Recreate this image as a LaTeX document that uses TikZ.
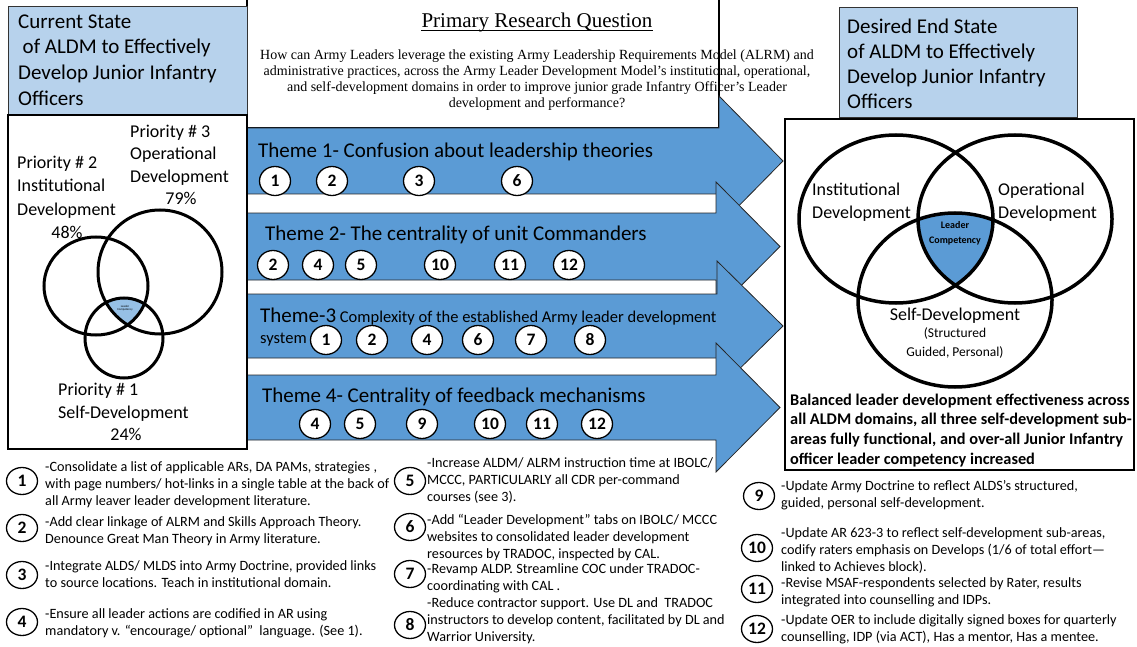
\documentclass[tikz,border=0pt]{standalone}
\usepackage{fontspec}
\setmainfont{Carlito}
\newfontfamily\qfont{Liberation Serif}
\usetikzlibrary{shapes.geometric}
\definecolor{arrowblue}{RGB}{91,155,213}
\definecolor{headblue}{RGB}{183,210,236}
\definecolor{coreblue}{RGB}{150,192,230}
\newcommand{\fsz}[2]{\fontsize{#1}{#2}\selectfont}

\begin{document}
\begin{tikzpicture}[x=1pt,y=-1pt,
  themearrow/.style={fill=arrowblue, draw=black!85, line width=0.8pt, line join=miter},
  panel/.style={draw=black, line width=1.1pt, fill=white},
  header/.style={draw=black!80, line width=1pt, fill=headblue},
  numcirc/.style={ellipse, draw=black, line width=1.3pt, fill=white, minimum width=31pt, minimum height=29pt, inner sep=0pt, font={\fsz{17.5}{18}\bfseries}},
  notecirc/.style={numcirc, minimum height=27pt},
  venn/.style={draw=black, line width=3.5pt},
  smallvenn/.style={draw=black, line width=3pt},
  txt/.style={inner sep=0pt, anchor=base west, align=left},
  ctxt/.style={inner sep=0pt, anchor=base, align=center},
  notetxt/.style={txt, font={\fsz{14.2}{17}}},
]
% multi-line nodes are placed by the baseline of their last line
\useasboundingbox (0,0) rectangle (1137,647);

% research question panel
\path[panel] (247,-3) rectangle (719,128);

% theme arrows, drawn top to bottom so each head overlaps the one above
\path[themearrow] (247,128) -- (719,128) -- (719,96) -- (783,161) -- (719,226) -- (719,194) -- (247,194) -- cycle;
\path[themearrow] (247,213) -- (716,213) -- (716,182) -- (780,246.5) -- (716,311) -- (716,280) -- (247,280) -- cycle;
\path[themearrow] (247,294) -- (717,294) -- (717,261) -- (783,326) -- (717,391) -- (717,358) -- (247,358) -- cycle;
\path[themearrow] (247,375) -- (716,375) -- (716,343) -- (780,407.5) -- (716,472) -- (716,440) -- (247,440) -- cycle;

% current state panel
\path[header] (8,7) rectangle (247,115);
\path[panel] (8,115) rectangle (247,449);

% desired end state panel
\path[panel] (785,119) rectangle (1134,470);
\path[header] (839,8) rectangle (1077,118);

% headers
\node[txt, font={\fsz{21}{25.6}}] (curhead) at (18,105.1)
  {Current State\\\hspace*{4.5pt}of ALDM to Effectively\\Develop Junior Infantry\\Officers};
\node[txt, font={\fsz{21}{25}}] (deshead) at (847,108.3)
  {Desired End State\\of ALDM to Effectively\\Develop Junior Infantry\\Officers};

% research question
\node[ctxt, font={\qfont\fsz{21}{25}}] (qtitle) at (537,28) {Primary Research Question};
\draw[line width=1pt] ([yshift=-3pt]qtitle.base west) -- ([yshift=-3pt]qtitle.base east);
\node[ctxt, font={\qfont\fsz{14}{16}}] (qtext) at (537,108)
  {How can Army Leaders leverage the existing Army Leadership Requirements Model (ALRM) and\\
   administrative practices, across the Army Leader Development Model’s institutional, operational,\\
   and self-development domains in order to improve junior grade Infantry Officer’s Leader\\
   development and performance?};

% current state venn
\begin{scope}
  \clip (96,286) ellipse [x radius=52pt, y radius=49pt];
  \clip (160,272) circle [radius=62pt];
  \fill[coreblue] (124,338) ellipse [x radius=39pt, y radius=40pt];
\end{scope}
\draw[smallvenn] (96,286) ellipse [x radius=52pt, y radius=49pt];
\draw[smallvenn] (160,272) circle [radius=62pt];
\draw[smallvenn] (124,338) ellipse [x radius=39pt, y radius=40pt];
\node[ctxt, font={\fsz{3}{3.5}}] (curcore) at (125,310.5) {Leader\\Competency};

\node[txt, font={\fsz{18}{22.5}}] (pr3) at (130,182.4) {Priority \# 3\\Operational\\Development};
\node[ctxt, font={\fsz{18}{22}}] (pr3pct) at (181,204.4) {79\%};
\node[txt, font={\fsz{18}{23.5}}] (pr2) at (17,215.4) {Priority \# 2\\Institutional\\Development};
\node[ctxt, font={\fsz{18}{22}}] (pr2pct) at (67,238.4) {48\%};
\node[txt, font={\fsz{18}{23.5}}] (pr1) at (58,418.9) {Priority \# 1\\Self-Development};
\node[ctxt, font={\fsz{18}{22}}] (pr1pct) at (126,440.4) {24\%};

% desired end state venn
\begin{scope}
  \clip (896,219) ellipse [x radius=97pt, y radius=84pt];
  \clip (1015,219) ellipse [x radius=97pt, y radius=84pt];
  \fill[arrowblue] (955,300) ellipse [x radius=97pt, y radius=87pt];
\end{scope}
\draw[venn] (896,219) ellipse [x radius=97pt, y radius=84pt];
\draw[venn] (1015,219) ellipse [x radius=97pt, y radius=84pt];
\draw[venn] (955,300) ellipse [x radius=97pt, y radius=87pt];

\node[txt, font={\fsz{18}{23}}] (desinst) at (812,218.4) {Institutional\\Development};
\node[txt, font={\fsz{18}{23}}] (desop) at (998,218.4) {Operational\\Development};
\node[ctxt, font={\fsz{10}{14}\bfseries}] (descore) at (955,243) {Leader\\Competency};
\node[ctxt, font={\fsz{18}{22}}] (desself) at (955,320.4) {Self-Development};
\node[ctxt, font={\fsz{13.5}{19}}] (desselfsub) at (955,356) {(Structured\\Guided, Personal)};
\node[txt, font={\fsz{16.3}{19.7}\bfseries}] (outcome) at (790,464.1)
  {Balanced leader development effectiveness across\\
   all ALDM domains, all three self-development sub-\\
   areas fully functional, and over-all Junior Infantry\\
   officer leader competency increased};

% theme labels
\node[txt, font={\fsz{21}{25}}] (th1) at (258,158) {Theme 1- Confusion about leadership theories};
\node[txt, font={\fsz{21}{25}}] (th2) at (265,240) {Theme 2- The centrality of unit Commanders};
\node[txt, font={\fsz{16.5}{21.5}}] (th3) at (260,343.5)
  {{\fsz{21}{25}Theme-3} Complexity of the established Army leader development\\system};
\node[txt, font={\fsz{21}{25}}] (th4) at (262,402) {Theme 4- Centrality of feedback mechanisms};

% recommendation markers on each theme
\foreach \cx/\num [count=\k] in {275/1,332/2,419/3,517/6}
  \node[numcirc] (ta\k) at (\cx,181) {\num};
\foreach \cx/\num [count=\k] in {273/2,318/4,361/5,440/10,510/11,569/12}
  \node[numcirc] (tb\k) at (\cx,265) {\num};
\foreach \cx/\num [count=\k] in {326/1,372/2,427/4,478/6,531/7,590/8}
  \node[numcirc] (tc\k) at (\cx,340) {\num};
\foreach \cx/\num [count=\k] in {315/4,360/5,422/9,490/10,542/11,597/12}
  \node[numcirc] (td\k) at (\cx,424) {\num};

% recommendation list
\node[notecirc] (r1) at (22,481) {1};
\node[notetxt] (r1t) at (45,505)
  {-Consolidate a list of applicable ARs, DA PAMs, strategies ,\\
   with page numbers/ hot-links in a single table at the back of\\
   all Army leaver leader development literature.};
\node[notecirc] (r2) at (22,528) {2};
\node[notetxt] (r2t) at (45,543)
  {-Add clear linkage of ALRM and Skills Approach Theory.\\
   Denounce Great Man Theory in Army literature.};
\node[notecirc] (r3) at (22,575) {3};
\node[notetxt] (r3t) at (45,587)
  {-Integrate ALDS/ MLDS into Army Doctrine, provided links\\
   to source locations. Teach in institutional domain.};
\node[notecirc] (r4) at (22,622) {4};
\node[notetxt] (r4t) at (45,635)
  {-Ensure all leader actions are codified in AR using\\
   mandatory v. “encourage/ optional”\ \ language. (See 1).};

\node[notecirc] (r5) at (410,481) {5};
\node[notetxt] (r5t) at (427,501)
  {-Increase ALDM/ ALRM instruction time at IBOLC/\\
   MCCC, PARTICULARLY all CDR per-command\\
   courses (see 3).};
\node[notecirc] (r6) at (410,527) {6};
\node[notetxt] (r6t) at (427,558)
  {-Add “Leader Development” tabs on IBOLC/ MCCC\\
   websites to consolidated leader development\\
   resources by TRADOC, inspected by CAL.};
\node[notecirc] (r7) at (410,574) {7};
\node[notetxt] (r7t) at (427,590)
  {-Revamp ALDP. Streamline COC under TRADOC-\\
   coordinating with CAL .};
\node[notecirc] (r8) at (410,625) {8};
\node[notetxt] (r8t) at (427,641)
  {-Reduce contractor support. Use DL and\ \ TRADOC\\
   instructors to develop content, facilitated by DL and\\
   Warrior University.};

\node[notecirc] (r9) at (759,496) {9};
\node[notetxt] (r9t) at (781,507)
  {-Update Army Doctrine to reflect ALDS’s structured,\\
   guided, personal self-development.};
\node[notecirc] (r10) at (757,548) {10};
\node[notetxt] (r10t) at (781,571)
  {-Update AR 623-3 to reflect self-development sub-areas,\\
   codify raters emphasis on Develops (1/6 of total effort—\\
   linked to Achieves block).};
\node[notecirc] (r11) at (757,589) {11};
\node[notetxt] (r11t) at (781,604)
  {-Revise MSAF-respondents selected by Rater, results\\
   integrated into counselling and IDPs.};
\node[notecirc] (r12) at (757,629) {12};
\node[notetxt] (r12t) at (781,641)
  {-Update OER to include digitally signed boxes for quarterly\\
   counselling, IDP (via ACT), Has a mentor, Has a mentee.};
\end{tikzpicture}
\end{document}
